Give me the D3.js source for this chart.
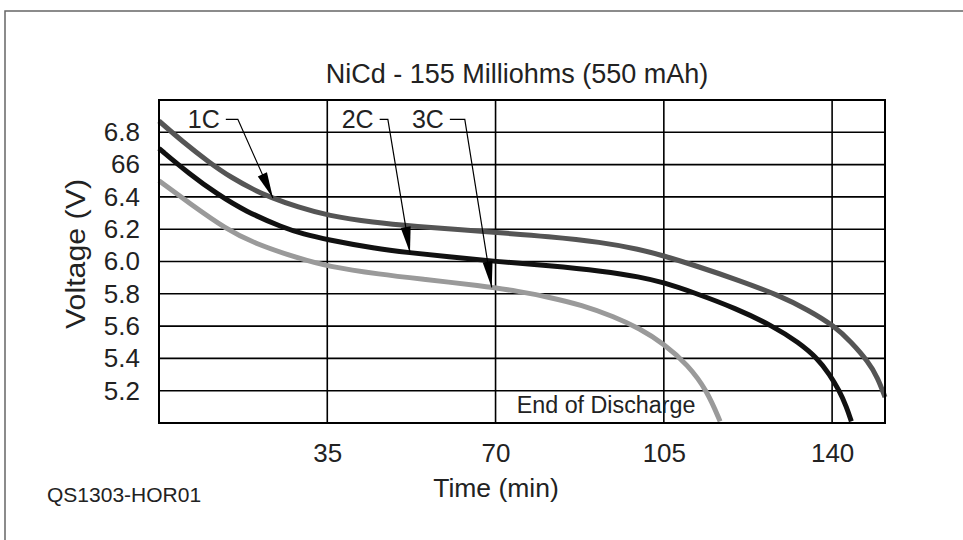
<!DOCTYPE html>
<html>
<head>
<meta charset="utf-8">
<script src="https://cdn.jsdelivr.net/npm/d3@7"></script>
<style>
  html, body { margin: 0; padding: 0; background: #fff; }
  svg { display: block; }
  text { font-family: "Liberation Sans", Arial, Helvetica, sans-serif; fill: #222; }
</style>
</head>
<body>
<svg id="chart" width="963" height="540"></svg>
<script>
// Discharge curves, time in minutes, voltage in volts
const time1C = [0, 5, 10.6, 15, 20, 23, 29, 35, 45, 52, 70, 81, 92, 100, 105, 112, 120, 129, 135, 140.5, 144, 147.5, 149.5, 151];
const volt1C = [6.87, 6.74, 6.61, 6.52, 6.44, 6.40, 6.335, 6.285, 6.24, 6.22, 6.18, 6.155, 6.12, 6.075, 6.035, 5.97, 5.89, 5.79, 5.70, 5.60, 5.50, 5.38, 5.28, 5.16];

const time2C = [0, 6.4, 12, 18, 25.8, 30, 35, 45, 52, 60, 70, 81, 92.5, 100, 105, 111, 120, 127.7, 133, 137, 139.5, 141.5, 143, 144];
const volt2C = [6.70, 6.54, 6.42, 6.31, 6.21, 6.17, 6.135, 6.08, 6.055, 6.03, 6.00, 5.975, 5.94, 5.905, 5.87, 5.81, 5.71, 5.60, 5.50, 5.40, 5.30, 5.20, 5.10, 5.01];

const time3C = [0, 6.4, 14, 20, 29, 35, 46, 55, 66.8, 75, 81, 88, 94.5, 100, 105, 110, 114, 116.7];
const volt3C = [6.50, 6.36, 6.20, 6.11, 6.02, 5.97, 5.92, 5.89, 5.85, 5.815, 5.78, 5.73, 5.66, 5.585, 5.49, 5.36, 5.20, 5.01];

const seriesNames = ["1C", "2C", "3C"];
const seriesColors = ["#555555", "#111111", "#9a9a9a"];

// Axis ticks
const xTicks = [35, 70, 105, 140];
const yTicks = [6.8, 6.6, 6.4, 6.2, 6.0, 5.8, 5.6, 5.4, 5.2];
const yTickLabels = ["6.8", "66", "6.4", "6.2", "6.0", "5.8", "5.6", "5.4", "5.2"];

// Callouts: label start time, elbow time, arrow tip time (tip sits on its curve)
const calloutLabelTime = [6.0, 38.0, 52.6];
const calloutElbowTime = [16.4, 47.6, 63.6];
const calloutTipTime = [23.7, 52.2, 69.2];
const calloutLabelVolt = 6.88;

const svg = d3.select("#chart");
const x = d3.scaleLinear().domain([0, 151]).range([159, 885]);
const y = d3.scaleLinear().domain([5.0, 7.0]).range([423, 100]);

// Page frame
svg.append("path")
  .attr("d", "M5,540V11H963")
  .attr("fill", "none")
  .attr("stroke", "#666")
  .attr("stroke-width", 1.5);

// Title
svg.append("text")
  .attr("x", 517).attr("y", 83)
  .attr("text-anchor", "middle")
  .attr("font-size", 27)
  .text("NiCd - 155 Milliohms (550 mAh)");

// Grid lines
const grid = svg.append("g").attr("stroke", "#000").attr("stroke-width", 1.6);
grid.selectAll("line.h").data(yTicks).join("line")
  .attr("x1", x.range()[0]).attr("x2", x.range()[1])
  .attr("y1", d => y(d)).attr("y2", d => y(d));
grid.selectAll("line.v").data(xTicks).join("line")
  .attr("y1", y.range()[0]).attr("y2", y.range()[1])
  .attr("x1", d => x(d)).attr("x2", d => x(d));

// Curves
const series = [
  time1C.map((t, i) => [t, volt1C[i]]),
  time2C.map((t, i) => [t, volt2C[i]]),
  time3C.map((t, i) => [t, volt3C[i]])
];
const line = d3.line().x(d => x(d[0])).y(d => y(d[1])).curve(d3.curveBasis);
svg.append("g").selectAll("path").data(series).join("path")
  .attr("d", line)
  .attr("fill", "none")
  .attr("stroke", (d, i) => seriesColors[i])
  .attr("stroke-width", 5);

// Plot border
svg.append("rect")
  .attr("x", x.range()[0]).attr("y", y.range()[1])
  .attr("width", x.range()[1] - x.range()[0])
  .attr("height", y.range()[0] - y.range()[1])
  .attr("fill", "none").attr("stroke", "#000").attr("stroke-width", 2);

// Axes
const xAxis = svg.append("g")
  .attr("transform", `translate(0,${y.range()[0]})`)
  .call(d3.axisBottom(x).tickValues(xTicks).tickSize(0));
const yAxis = svg.append("g")
  .attr("transform", `translate(${x.range()[0]},0)`)
  .call(d3.axisLeft(y).tickValues(yTicks).tickSize(0).tickPadding(19)
    .tickFormat((d, i) => yTickLabels[i]));
[xAxis, yAxis].forEach(g => {
  g.select(".domain").remove();
  g.attr("font-family", null);
  g.selectAll("text").attr("font-size", 26).attr("fill", "#222");
});
xAxis.selectAll("text").attr("dy", null).attr("y", 39);

svg.append("text")
  .attr("x", 496).attr("y", 497)
  .attr("text-anchor", "middle")
  .attr("font-size", 26.5)
  .text("Time (min)");

svg.append("text")
  .attr("transform", "translate(85,254) rotate(-90)")
  .attr("text-anchor", "middle")
  .attr("font-size", 27)
  .attr("textLength", 150)
  .attr("lengthAdjust", "spacingAndGlyphs")
  .text("Voltage (V)");

svg.append("text")
  .attr("x", 47).attr("y", 502)
  .attr("font-size", 21)
  .text("QS1303-HOR01");

svg.append("text")
  .attr("x", x(74.4)).attr("y", y(5.06))
  .attr("font-size", 23.3)
  .text("End of Discharge");

// Callout labels with arrows
function voltAt(s, t) {
  const pts = series[s];
  for (let i = 1; i < pts.length; i++) {
    if (t <= pts[i][0]) {
      const a = pts[i - 1], b = pts[i];
      return a[1] + (b[1] - a[1]) * (t - a[0]) / (b[0] - a[0]);
    }
  }
  return pts[pts.length - 1][1];
}

const callouts = svg.append("g");
seriesNames.forEach((name, i) => {
  const lbl = callouts.append("text")
    .attr("x", x(calloutLabelTime[i])).attr("y", y(calloutLabelVolt))
    .attr("dominant-baseline", "central")
    .attr("font-size", 25)
    .text(name);
  const textEnd = x(calloutLabelTime[i]) + lbl.node().getComputedTextLength();
  const ly = y(calloutLabelVolt);
  const tx = x(calloutTipTime[i]);
  const ty = y(voltAt(i, calloutTipTime[i]));
  const ex = x(calloutElbowTime[i]);
  callouts.append("path")
    .attr("d", `M${textEnd + 6},${ly}H${ex}L${tx},${ty}`)
    .attr("fill", "none").attr("stroke", "#000").attr("stroke-width", 1.2);
  // Arrow head
  const ang = Math.atan2(ty - ly, tx - ex);
  const len = 26, half = 5;
  const bx = tx - len * Math.cos(ang), by = ty - len * Math.sin(ang);
  const nx = -Math.sin(ang) * half, ny = Math.cos(ang) * half;
  callouts.append("path")
    .attr("d", `M${tx},${ty}L${bx + nx},${by + ny}L${bx - nx},${by - ny}Z`)
    .attr("fill", "#000");
});
</script>
</body>
</html>
